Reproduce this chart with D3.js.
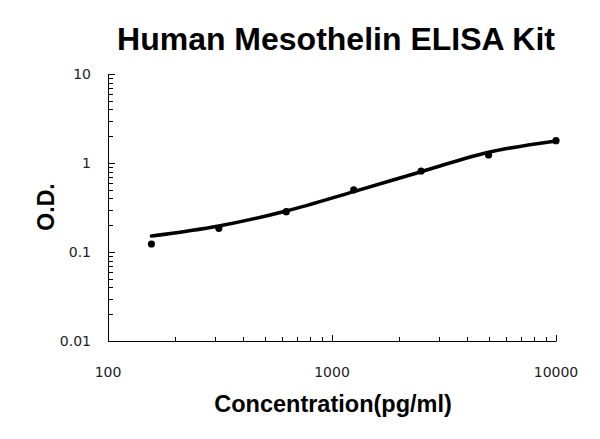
<!DOCTYPE html>
<html>
<head>
<meta charset="utf-8">
<script src="https://cdn.jsdelivr.net/npm/d3@7"></script>
<style>
	html, body { margin: 0; padding: 0; background: #fff; }
	svg { display: block; }
	.tick-label { font-family: 'DejaVu Sans', sans-serif; font-size: 14px; fill: #222; }
	.title, .axis-title { font-family: 'Liberation Sans', Arial, sans-serif; font-weight: bold; fill: #000; }
</style>
</head>
<body>
<div id="chart"></div>
<script>
// standard points (pg/ml -> O.D.)
var concentration = [156.25, 312.5, 625, 1250, 2500, 5000, 10000];
var odValues = [0.123, 0.1845, 0.284, 0.498, 0.813, 1.23, 1.78];
// fitted curve at the same concentrations
var fitValues = [0.151, 0.196, 0.289, 0.477, 0.798, 1.32, 1.77];
var xTickLabels = [100, 1000, 10000];
var yTickLabels = [0.01, 0.1, 1, 10];

(function(global) {
	var width = 600, height = 439;
	var left = 108, right = 556, top = 74, bottom = 341;

	var svg = d3.select('#chart').append('svg')
		.attr('width', width)
		.attr('height', height);
	svg.append('rect')
		.attr('width', width)
		.attr('height', height)
		.attr('fill', '#fff');

	var x = d3.scaleLog().domain([100, 10000]).range([left, right]);
	var y = d3.scaleLog().domain([0.01, 10]).range([bottom, top]);

	// minor ticks every 1..9 of each decade, drawn inside the plot
	var minorX = [], minorY = [];
	[100, 1000].forEach(function(d) {
		for(var k = 2; k <= 9; k++) minorX.push(d * k);
	});
	[0.01, 0.1, 1].forEach(function(d) {
		for(var k = 2; k <= 9; k++) minorY.push(d * k);
	});

	var axes = svg.append('g').attr('stroke', '#000').attr('stroke-width', 1);
	axes.append('line')
		.attr('x1', left + 0.5).attr('x2', left + 0.5)
		.attr('y1', top).attr('y2', bottom + 0.5);
	axes.append('line')
		.attr('x1', left).attr('x2', right + 0.5)
		.attr('y1', bottom + 0.5).attr('y2', bottom + 0.5);

	axes.selectAll('.xminor').data(minorX).enter().append('line')
		.attr('x1', function(d) { return Math.round(x(d)) + 0.5; })
		.attr('x2', function(d) { return Math.round(x(d)) + 0.5; })
		.attr('y1', bottom - 4).attr('y2', bottom);
	axes.selectAll('.xmajor').data(xTickLabels).enter().append('line')
		.attr('x1', function(d) { return Math.round(x(d)) + 0.5; })
		.attr('x2', function(d) { return Math.round(x(d)) + 0.5; })
		.attr('y1', bottom - 6).attr('y2', bottom);
	axes.selectAll('.yminor').data(minorY).enter().append('line')
		.attr('y1', function(d) { return Math.round(y(d)) + 0.5; })
		.attr('y2', function(d) { return Math.round(y(d)) + 0.5; })
		.attr('x1', left).attr('x2', left + 5);
	axes.selectAll('.ymajor').data(yTickLabels).enter().append('line')
		.attr('y1', function(d) { return Math.round(y(d)) + 0.5; })
		.attr('y2', function(d) { return Math.round(y(d)) + 0.5; })
		.attr('x1', left).attr('x2', left + 7);

	svg.selectAll('.xlab').data(xTickLabels).enter().append('text')
		.attr('class', 'tick-label')
		.attr('x', function(d) { return x(d); })
		.attr('y', bottom + 36)
		.attr('text-anchor', 'middle')
		.text(function(d) { return d; });
	svg.selectAll('.ylab').data(yTickLabels).enter().append('text')
		.attr('class', 'tick-label')
		.attr('x', left - 17)
		.attr('y', function(d) { return y(d); })
		.attr('dy', '0.36em')
		.attr('text-anchor', 'end')
		.text(function(d) { return d; });

	// fitted curve
	var line = d3.line()
		.x(function(d) { return x(d[0]); })
		.y(function(d) { return y(d[1]); })
		.curve(d3.curveCatmullRom.alpha(0.5));
	svg.append('path')
		.datum(d3.zip(concentration, fitValues))
		.attr('d', line)
		.attr('fill', 'none')
		.attr('stroke', '#000')
		.attr('stroke-width', 3.5)
		.attr('stroke-linecap', 'round');

	svg.selectAll('.dot').data(d3.zip(concentration, odValues)).enter().append('circle')
		.attr('cx', function(d) { return x(d[0]); })
		.attr('cy', function(d) { return y(d[1]); })
		.attr('r', 3.6)
		.attr('fill', '#000');

	svg.append('text')
		.attr('class', 'title')
		.attr('x', 336)
		.attr('y', 50)
		.attr('text-anchor', 'middle')
		.attr('font-size', 32)
		.text('Human Mesothelin ELISA Kit');
	svg.append('text')
		.attr('class', 'axis-title')
		.attr('x', 333)
		.attr('y', 412)
		.attr('text-anchor', 'middle')
		.attr('font-size', 23.5)
		.text('Concentration(pg/ml)');
	svg.append('text')
		.attr('class', 'axis-title')
		.attr('transform', 'translate(54, 207) rotate(-90)')
		.attr('text-anchor', 'middle')
		.attr('font-size', 23)
		.text('O.D.');
})(window);
</script>
</body>
</html>
